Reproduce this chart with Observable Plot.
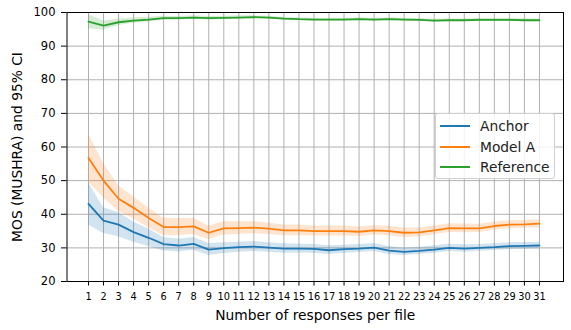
<!DOCTYPE html>
<html>
<head>
<meta charset="utf-8">
<script src="https://cdn.jsdelivr.net/npm/d3@7"></script>
<script src="https://cdn.jsdelivr.net/npm/@observablehq/plot@0.6"></script>
<style>
  body { margin: 0; background: #fff; }
  #wrap { position: relative; width: 571px; height: 330px; font-family: "DejaVu Sans", sans-serif; }
  #legend { position: absolute; left: 435px; top: 113px; width: 120px; height: 66px; box-sizing: border-box;
    border: 1px solid #d0d0d0; border-radius: 3px; background: rgba(255,255,255,0.85); font-size: 13.8px; color: #222; }
  .item { position: absolute; left: 4px; height: 16px; display: flex; align-items: center; }
  .item span.sw { display: inline-block; width: 30px; height: 2px; margin-right: 10px; }
</style>
</head>
<body>
<div id="wrap"><div id="legend"></div></div>
<script>
const responses = [1,2,3,4,5,6,7,8,9,10,11,12,13,14,15,16,17,18,19,20,21,22,23,24,25,26,27,28,29,30,31];
const seriesNames = ["Anchor", "Model A", "Reference"];
const seriesColors = ["#1f77b4", "#ff7f0e", "#2ca02c"];
const anchor = [43.1, 38.1, 36.9, 34.7, 33.0, 31.1, 30.7, 31.2, 29.5, 29.9, 30.2, 30.4, 30.1, 29.8, 29.8, 29.7, 29.3, 29.6, 29.8, 30.1, 29.2, 28.8, 29.1, 29.5, 30.0, 29.8, 30.0, 30.2, 30.5, 30.6, 30.7];
const anchorCI = [6.3, 3.8, 3.6, 3.0, 2.6, 2.0, 1.9, 1.9, 1.8, 1.6, 1.5, 1.5, 1.4, 1.4, 1.3, 1.3, 1.3, 1.2, 1.2, 1.2, 1.2, 1.1, 1.1, 1.1, 1.1, 1.1, 1.0, 1.0, 1.0, 1.0, 1.0];
const modelA = [56.7, 50.0, 44.6, 41.9, 38.9, 36.2, 36.2, 36.4, 34.5, 35.8, 35.9, 36.0, 35.7, 35.2, 35.2, 35.0, 35.0, 35.0, 34.8, 35.2, 35.0, 34.5, 34.6, 35.2, 35.9, 35.8, 35.8, 36.5, 36.9, 37.0, 37.2];
const modelACI = [7.2, 5.2, 3.8, 3.3, 2.9, 2.6, 2.5, 2.4, 2.0, 2.0, 1.9, 1.8, 1.7, 1.6, 1.6, 1.5, 1.5, 1.5, 1.4, 1.4, 1.4, 1.4, 1.3, 1.3, 1.3, 1.3, 1.2, 1.2, 1.2, 1.2, 1.2];
const reference = [97.3, 96.1, 97.1, 97.6, 97.9, 98.3, 98.3, 98.5, 98.3, 98.4, 98.5, 98.6, 98.5, 98.2, 98.0, 97.9, 97.9, 97.9, 98.0, 97.9, 98.0, 97.9, 97.8, 97.6, 97.7, 97.7, 97.8, 97.8, 97.8, 97.7, 97.7];
const referenceCI = [2.1, 1.4, 1.0, 0.8, 0.7, 0.6, 0.5, 0.5, 0.5, 0.5, 0.5, 0.4, 0.4, 0.4, 0.4, 0.4, 0.4, 0.4, 0.4, 0.4, 0.4, 0.4, 0.4, 0.4, 0.4, 0.4, 0.4, 0.4, 0.4, 0.4, 0.4];
const yTicks = [20, 30, 40, 50, 60, 70, 80, 90, 100];

const means = [anchor, modelA, reference];
const cis = [anchorCI, modelACI, referenceCI];
const rows = [];
seriesNames.forEach((name, s) => {
  responses.forEach((r, i) => rows.push({series: name, x: r, y: means[s][i], lo: means[s][i] - cis[s][i], hi: means[s][i] + cis[s][i]}));
});

const chart = Plot.plot({
  width: 571, height: 330,
  marginLeft: 66.5, marginRight: 8, marginTop: 12, marginBottom: 49,
  style: {fontFamily: "DejaVu Sans, sans-serif", fontSize: "11.5px", color: "#000", background: "white"},
  x: {domain: [-0.43, 32.6]},
  y: {domain: [20, 100]},
  color: {domain: seriesNames, range: seriesColors},
  marks: [
    Plot.gridX(responses, {stroke: "#b0b0b0", strokeOpacity: 1, strokeWidth: 1}),
    Plot.gridY(yTicks, {stroke: "#b0b0b0", strokeOpacity: 1, strokeWidth: 1}),
    Plot.areaY(rows, {x: "x", y1: "lo", y2: "hi", fill: "series", fillOpacity: 0.2, z: "series"}),
    Plot.lineY(rows, {x: "x", y: "y", stroke: "series", strokeWidth: 1.8, z: "series"}),
    Plot.axisX({ticks: responses, tickFormat: d => String(d), tickSize: 4.5, tickPadding: 7.5, fontSize: 9.8, label: null}),
    Plot.axisX({ticks: [], label: "Number of responses per file", labelAnchor: "center", labelArrow: "none", labelOffset: 38, fontSize: 13.8}),
    Plot.axisY({ticks: yTicks, tickFormat: d => String(d), tickSize: 5.5, tickPadding: 6, fontSize: 11.5, label: null}),
    Plot.axisY({ticks: [], label: "MOS (MUSHRA) and 95% CI", labelAnchor: "center", labelArrow: "none", labelOffset: 55, fontSize: 13.8}),
    Plot.frame({stroke: "black", strokeWidth: 1})
  ]
});
document.getElementById("wrap").prepend(chart);

const legend = document.getElementById("legend");
seriesNames.forEach((name, i) => {
  const d = document.createElement("div");
  d.className = "item";
  d.style.top = (4 + i * 20.5) + "px";
  d.innerHTML = `<span class="sw" style="background:${seriesColors[i]}"></span><span>${name}</span>`;
  legend.appendChild(d);
});
</script>
</body>
</html>
